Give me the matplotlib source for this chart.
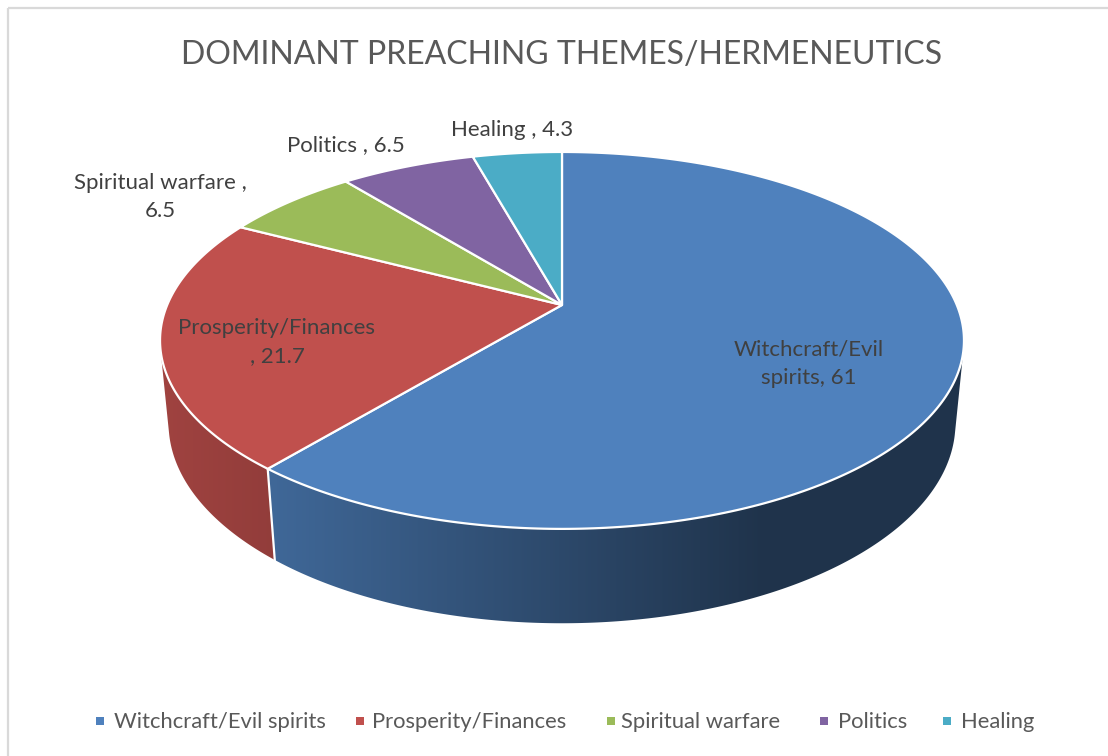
import numpy as np
import matplotlib
matplotlib.use("Agg")
import matplotlib.pyplot as plt
from matplotlib.colors import to_rgb
from matplotlib.patches import Polygon, Rectangle

categories = ["Witchcraft/Evil spirits", "Prosperity/Finances", "Spiritual warfare", "Politics", "Healing"]
values = [61, 21.7, 6.5, 6.5, 4.3]
slice_labels = ["Witchcraft/Evil\nspirits, 61", "Prosperity/Finances\n, 21.7",
                "Spiritual warfare ,\n6.5", "Politics , 6.5", "Healing , 4.3"]
colors = ["#4f81bd", "#c0504d", "#9bbb59", "#8064a2", "#4bacc6"]
label_xy = [(809, 364), (277, 342), (160, 197), (346, 145), (512, 130)]
legend_marker_x = [100, 360, 611, 824, 947]
legend_text_x = [114, 372, 621, 838, 961]

plt.rcParams["font.family"] = ["Lato", "DejaVu Sans"]

fig = plt.figure(figsize=(11.08, 7.56), dpi=100)
ax = fig.add_axes([0, 0, 1, 1])
ax.set_xlim(0, 1108)
ax.set_ylim(756, 0)
ax.axis("off")

# Perspective camera for the disc, in pixel units
CX, CY = 562.0, 305.0
KX, KY = 394.8, 181.8
TILT, DROP_W, DROP_Y = 0.188, 0.021, 83.3


def project(theta, depth=0.0):
    """theta runs clockwise from 12 o'clock; depth 1 is the underside of the disc."""
    u, v = np.sin(theta), np.cos(theta)
    w = 1 + TILT * v + DROP_W * depth
    return CX + KX * u / w, CY + (DROP_Y * depth - KY * v) / w


def convex_hull(points):
    pts = sorted(map(tuple, points))

    def half(seq):
        out = []
        for p in seq:
            while len(out) > 1 and ((out[-1][0] - out[-2][0]) * (p[1] - out[-2][1])
                                    - (out[-1][1] - out[-2][1]) * (p[0] - out[-2][0])) <= 0:
                out.pop()
            out.append(p)
        return out[:-1]

    return np.array(half(pts) + half(pts[::-1]))


edges = np.radians(np.concatenate([[0], np.cumsum(values)]) * 3.6)

# Visible wall of the disc, a horizontal shading ramp clipped to each slice's outline
wall_ramps = {0: (275, 760, 0.80, 0.40), 1: (165, 275, 0.83, 0.76)}
xgrid = np.arange(0, 1108)
for i, (x0, x1, f0, f1) in wall_ramps.items():
    a0, a1 = max(edges[i], np.pi * 0.42), min(edges[i + 1], np.pi * 1.58)
    th = np.linspace(a0, a1, 500)
    xt, yt = project(th)
    xb, yb = project(th, depth=1)
    outline = convex_hull(np.column_stack([np.r_[xt, xb], np.r_[yt, yb]]))
    factor = f0 + (f1 - f0) * np.clip((xgrid - x0) / (x1 - x0), 0, 1)
    ramp = np.array(to_rgb(colors[i]))[None, None, :] * factor[None, :, None]
    clip = Polygon(outline, closed=True, transform=ax.transData, facecolor="none", edgecolor="none")
    ax.add_patch(clip)
    im = ax.imshow(ramp, extent=(0, 1108, 756, 0), aspect="auto", interpolation="bilinear", zorder=2)
    im.set_clip_path(clip)
ax.set_xlim(0, 1108)
ax.set_ylim(756, 0)

# White seam where the two visible walls meet
sx0, sy0 = project(edges[1])
sx1, sy1 = project(edges[1], depth=1)
ax.plot([sx0, sx1], [sy0, sy1], color="white", lw=1.6, zorder=3)

# Top face of each slice
for i, c in enumerate(colors):
    th = np.linspace(edges[i], edges[i + 1], 300)
    x, y = project(th)
    pts = np.column_stack([np.r_[CX, x], np.r_[CY, y]])
    ax.add_patch(Polygon(pts, closed=True, facecolor=c, edgecolor="white", linewidth=1.6,
                         joinstyle="round", zorder=4))

# Chart frame: only the top and left rules
ax.plot([8, 8], [756, 8], color="#d9d9d9", lw=1.6, zorder=1, solid_capstyle="butt")
ax.plot([8, 1108], [8, 8], color="#d9d9d9", lw=1.6, zorder=1, solid_capstyle="butt")

ax.text(562, 55, "DOMINANT PREACHING THEMES/HERMENEUTICS", ha="center", va="center",
        fontsize=23, color="#595959", zorder=6)

for txt, (x, y) in zip(slice_labels, label_xy):
    ax.text(x, y, txt, ha="center", va="center", fontsize=16, color="#404040",
            linespacing=1.5, zorder=6)

for name, c, mx, tx in zip(categories, colors, legend_marker_x, legend_text_x):
    ax.add_patch(Rectangle((mx - 4, 717), 8, 8, facecolor=c, edgecolor="none", zorder=6))
    ax.text(tx, 722, name, ha="left", va="center", fontsize=15.8, color="#595959", zorder=6)

fig.savefig("out.png", dpi=100)
